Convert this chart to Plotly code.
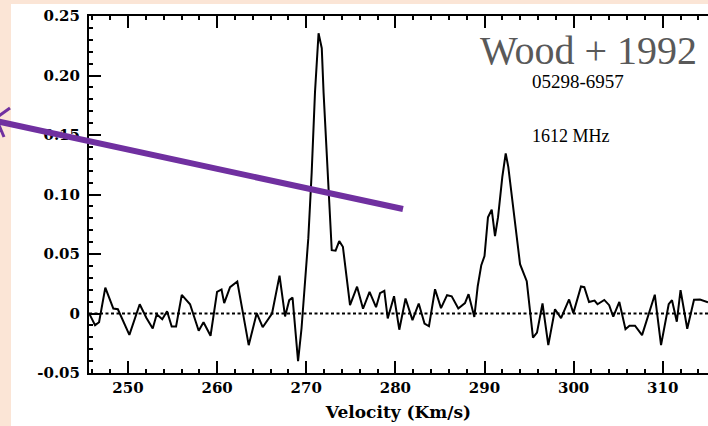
import plotly.graph_objects as go

# Spectrum (velocity in km/s, flux density)
velocity = [245.62, 246.30, 246.75, 247.45, 248.35, 248.86, 250.15, 251.31, 252.05, 252.77,
            253.22, 253.84, 254.38, 254.90, 255.39, 256.03, 256.96, 257.93, 258.47, 259.26,
            259.99, 260.49, 260.79, 261.45, 262.26, 263.54, 264.44, 265.11, 266.16, 267.00,
            267.62, 268.09, 268.46, 269.08, 269.47, 269.86, 270.23, 270.61, 270.98, 271.38,
            271.74, 271.94, 272.30, 272.67, 272.86, 273.29, 273.70, 274.11, 274.91, 275.70,
            276.37, 277.10, 277.83, 278.28, 278.76, 279.14, 279.85, 280.44, 281.14, 281.92,
            282.62, 283.27, 283.77, 284.45, 285.12, 285.80, 286.32, 287.06, 287.81, 288.21,
            288.86, 289.24, 289.64, 290.00, 290.39, 290.81, 291.18, 291.52, 292.00, 292.38,
            292.67, 293.99, 294.74, 295.44, 295.89, 296.51, 297.16, 297.91, 298.59, 299.49,
            299.97, 300.83, 301.20, 301.73, 302.35, 302.68, 303.44, 303.99, 304.45, 305.13,
            305.82, 306.27, 306.89, 307.68, 309.11, 309.81, 310.67, 311.04, 311.58, 312.00,
            312.75, 313.51, 314.18, 315.08]
flux = [0.0003, -0.0098, -0.0073, 0.0217, 0.0042, 0.0036, -0.0180, 0.0078, -0.0035, -0.0126,
        -0.0006, -0.0048, 0.0019, -0.0109, -0.0109, 0.0156, 0.0078, -0.0145, -0.0073, -0.0187,
        0.0182, 0.0202, 0.0087, 0.0221, 0.0269, -0.0266, 0.0003, -0.0115, 0.0000, 0.0318,
        -0.0025, 0.0112, 0.0133, -0.0401, -0.0124, 0.0238, 0.0633, 0.1187, 0.1860, 0.2355,
        0.2229, 0.1860, 0.1305, 0.0767, 0.0532, 0.0528, 0.0608, 0.0561, 0.0070, 0.0225,
        0.0040, 0.0182, 0.0053, 0.0171, 0.0190, -0.0042, 0.0145, -0.0136, 0.0126, -0.0056,
        0.0084, -0.0084, -0.0107, 0.0204, 0.0045, 0.0154, 0.0145, 0.0042, 0.0087, 0.0162,
        -0.0029, 0.0229, 0.0406, 0.0482, 0.0809, 0.0872, 0.0650, 0.0809, 0.1148, 0.1345,
        0.1232, 0.0414, 0.0271, -0.0203, -0.0161, 0.0084, -0.0266, 0.0036, -0.0039, 0.0118,
        0.0003, 0.0227, 0.0221, 0.0097, 0.0108, 0.0078, 0.0114, 0.0070, -0.0027, 0.0097,
        -0.0132, -0.0103, -0.0103, -0.0182, 0.0158, -0.0266, 0.0078, 0.0112, -0.0069, 0.0196,
        -0.0128, 0.0116, 0.0118, 0.0095]

x_range = [245.62, 315.08]
y_range = [-0.05, 0.25]
x_tickvals = [250, 260, 270, 280, 290, 300, 310]
y_tickvals = [-0.05, 0.0, 0.05, 0.10, 0.15, 0.20, 0.25]
y_ticktext = ["-0.05", "0", "0.05", "0.10", "0.15", "0.20", "0.25"]
baseline = [0.0, 0.0]

W, H = 708, 426
ML, MR, MT, MB = 89, 0, 16, 53
PW, PH = W - ML - MR, H - MT - MB


def px(x):
    return (x - ML) / PW


def py(y):
    return (H - MB - y) / PH


PEACH = "#FBE5D6"
PURPLE = "#7030A0"
SERIF = "DejaVu Serif"

fig = go.Figure()
fig.add_trace(go.Scatter(x=x_range, y=baseline, mode="lines",
                         line=dict(color="black", width=2, dash="3px,2.5px"),
                         hoverinfo="skip", showlegend=False))
fig.add_trace(go.Scatter(x=velocity, y=flux, mode="lines",
                         line=dict(color="black", width=2),
                         showlegend=False))

shapes = [
    # white page area on peach frame
    dict(type="rect", xref="paper", yref="paper", x0=px(11), x1=px(W + 5), y0=py(4), y1=py(H + 5),
         fillcolor="white", line=dict(width=0), layer="below"),
    # purple arrow
    dict(type="line", xref="paper", yref="paper", x0=px(-2), y0=py(121.5), x1=px(403), y1=py(209),
         line=dict(color=PURPLE, width=6), layer="above"),
    dict(type="line", xref="paper", yref="paper", x0=px(-4), y0=py(118), x1=px(10), y1=py(108),
         line=dict(color=PURPLE, width=3), layer="above"),
    dict(type="line", xref="paper", yref="paper", x0=px(-4), y0=py(118), x1=px(4), y1=py(137),
         line=dict(color=PURPLE, width=3), layer="above"),
]

annotations = [
    dict(text="Wood + 1992", xref="paper", yref="paper", x=px(588), y=py(50),
         xanchor="center", yanchor="middle", showarrow=False,
         font=dict(family="Liberation Serif", size=40, color="#595959")),
    dict(text="05298-6957", xref="paper", yref="paper", x=px(578), y=py(81),
         xanchor="center", yanchor="middle", showarrow=False,
         font=dict(family="Liberation Serif", size=19, color="black")),
    dict(text="1612 MHz", xref="paper", yref="paper", x=px(571), y=py(136),
         xanchor="center", yanchor="middle", showarrow=False,
         font=dict(family="Liberation Serif", size=18, color="black")),
]

fig.update_layout(
    width=W, height=H,
    margin=dict(l=ML, r=MR, t=MT, b=MB, pad=0),
    paper_bgcolor=PEACH,
    plot_bgcolor="white",
    shapes=shapes,
    annotations=annotations,
    xaxis=dict(range=x_range, tickvals=x_tickvals, ticks="inside", ticklen=12, tickwidth=2,
               tickcolor="black", showline=True, linecolor="black", linewidth=2,
               mirror="allticks", showgrid=False, zeroline=False,
               minor=dict(dtick=2, tick0=0, ticks="inside", ticklen=4, tickwidth=1.5,
                          tickcolor="black", showgrid=False),
               tickfont=dict(family=SERIF, size=15, color="black", weight="bold"),
               title=dict(text="Velocity (Km/s)", standoff=10,
                          font=dict(family=SERIF, size=17, color="black", weight="bold"))),
    yaxis=dict(range=y_range, tickvals=y_tickvals, ticktext=y_ticktext, ticks="inside",
               ticklen=12, tickwidth=2, tickcolor="black", showline=True, linecolor="black",
               linewidth=2, mirror=False, showgrid=False, zeroline=False,
               ticklabelstandoff=4,
               minor=dict(dtick=0.01, ticks="inside", ticklen=4, tickwidth=1.5,
                          tickcolor="black", showgrid=False),
               tickfont=dict(family=SERIF, size=15, color="black", weight="bold")),
)

fig.write_html("out.html")
